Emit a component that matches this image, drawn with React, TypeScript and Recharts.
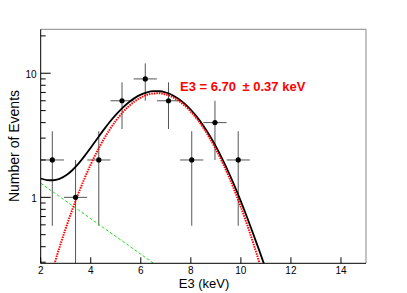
import { ComposedChart, Line, Scatter, XAxis, YAxis, ReferenceLine } from 'recharts';

// histogram bins (E3 in keV) and counts, Poisson errors
const binCenters = [2.464, 3.393, 4.321, 5.25, 6.179, 7.107, 8.036, 8.964, 9.893];
const counts = [2, 1, 2, 6, 9, 6, 2, 4, 2];
const countErrors = [1.41, 1, 1.41, 2.45, 3, 2.45, 1.41, 2, 1.41];
const binHalfWidth = 0.464;

// fit curves
const curveE = [2, 2.25, 2.5, 2.75, 3, 3.25, 3.5, 3.75, 4, 4.25, 4.5, 4.75, 5, 5.25, 5.5, 5.75, 6, 6.25, 6.5, 6.75, 7, 7.25, 7.5, 7.75, 8, 8.25, 8.5, 8.75, 9, 9.25, 9.5, 9.75, 10, 10.25, 10.5, 10.75, 11, 11.25];
const totalFit = [1.418, 1.378, 1.373, 1.41, 1.497, 1.645, 1.859, 2.148, 2.513, 2.954, 3.462, 4.024, 4.618, 5.218, 5.791, 6.302, 6.721, 7.016, 7.166, 7.159, 6.994, 6.679, 6.236, 5.691, 5.078, 4.428, 3.777, 3.15, 2.571, 2.053, 1.607, 1.233, 0.929, 0.688, 0.503, 0.365, 0.263, 0.191];
const signalFit = [0.118, 0.181, 0.27, 0.394, 0.562, 0.784, 1.066, 1.417, 1.84, 2.334, 2.891, 3.498, 4.134, 4.772, 5.38, 5.924, 6.373, 6.695, 6.871, 6.887, 6.743, 6.448, 6.023, 5.495, 4.897, 4.262, 3.624, 3.009, 2.441, 1.933, 1.497, 1.131, 0.835, 0.602, 0.424, 0.292, 0.196, 0.129];
const bkgE = [2, 2.5, 3, 3.5, 4, 4.5, 5, 5.5, 6, 6.5, 7];
const bkgFit = [1.3, 1.103, 0.935, 0.793, 0.673, 0.571, 0.484, 0.411, 0.348, 0.295, 0.251];

const xTicks = [2, 4, 6, 8, 10, 12, 14];
const yTicks = [0.3, 0.4, 0.5, 0.6, 0.7, 0.8, 0.9, 1, 2, 3, 4, 5, 6, 7, 8, 9, 10, 20];
const yLabelTicks = [1, 10];

const X_MIN = 2, X_MAX = 15;
const Y_MIN = 0.294, Y_MAX = 22.6;

const font = '"Liberation Sans", Arial, sans-serif';

const points = binCenters.map((x, i) => ({ x, y: counts[i] }));
const totalData = curveE.map((x, i) => ({ x, y: totalFit[i] }));
const signalData = curveE.map((x, i) => ({ x, y: signalFit[i] }));
const bkgData = bkgE.map((x, i) => ({ x, y: bkgFit[i] }));

const XTick = ({ x, y, payload }: any) => (
  <g>
    <line x1={x} x2={x} y1={y} y2={y - 6} stroke="#000" />
    <text x={x} y={y + 10.5} textAnchor="middle" fontSize={10} fontFamily={font} fill="#000">
      {payload.value}
    </text>
  </g>
);

const YTick = ({ x, y, payload }: any) => {
  const major = yLabelTicks.includes(payload.value);
  return (
    <g>
      <line x1={x} x2={x + (major ? 10 : 5)} y1={y} y2={y} stroke="#000" />
      {major && (
        <text x={x - 4} y={y + 5} textAnchor="end" fontSize={10} fontFamily={font} fill="#000">
          {payload.value}
        </text>
      )}
    </g>
  );
};

const Dot = ({ cx, cy }: any) => <circle cx={cx} cy={cy} r={2.6} fill="#000" />;

export default function App() {
  return (
    <div style={{ position: 'absolute', left: 0, top: 0, width: 407, height: 293, background: '#fff' }}>
      <ComposedChart width={407} height={293} margin={{ top: 29.3, right: 41, bottom: 0, left: 0 }}>
        <XAxis
          dataKey="x"
          type="number"
          domain={[X_MIN, X_MAX]}
          ticks={xTicks}
          interval={0}
          allowDataOverflow
          tickSize={0}
          tickMargin={0}
          tickLine={false}
          tick={<XTick />}
          axisLine={{ stroke: '#000' }}
          height={29.7}
        />
        <YAxis
          dataKey="y"
          type="number"
          scale="log"
          domain={[Y_MIN, Y_MAX]}
          ticks={yTicks}
          interval={0}
          allowDataOverflow
          tickSize={0}
          tickMargin={0}
          tickLine={false}
          tick={<YTick />}
          axisLine={{ stroke: '#000' }}
          width={40.7}
        />
        <ReferenceLine y={Y_MAX} stroke="#888" ifOverflow="visible" />
        <ReferenceLine x={X_MAX} stroke="#888" ifOverflow="visible" />
        {binCenters.map((x, i) => (
          <ReferenceLine
            key={`h${i}`}
            segment={[{ x: x - binHalfWidth, y: counts[i] }, { x: x + binHalfWidth, y: counts[i] }]}
            stroke="#555"
            ifOverflow="hidden"
          />
        ))}
        {binCenters.map((x, i) => (
          <ReferenceLine
            key={`v${i}`}
            segment={[{ x, y: Math.max(counts[i] - countErrors[i], 0.01) }, { x, y: counts[i] + countErrors[i] }]}
            stroke="#555"
            ifOverflow="hidden"
          />
        ))}
        <Line data={bkgData} dataKey="y" type="monotone" stroke="#22dd22" strokeWidth={1} strokeDasharray="3 2" dot={false} isAnimationActive={false} />
        <Line data={totalData} dataKey="y" type="monotone" stroke="#000" strokeWidth={1.8} dot={false} isAnimationActive={false} />
        <Line data={signalData} dataKey="y" type="monotone" stroke="#ff0000" strokeWidth={2} strokeDasharray="1.5 1" dot={false} isAnimationActive={false} />
        <Scatter data={points} dataKey="y" shape={<Dot />} isAnimationActive={false} />
      </ComposedChart>
      <div style={{ position: 'absolute', left: 180, top: 80, lineHeight: 1, fontFamily: font, fontWeight: 'bold', fontSize: 13, color: '#ff0000', whiteSpace: 'nowrap' }}>
        E3 = 6.70{'\u2002'}± 0.37 keV
      </div>
      <div style={{ position: 'absolute', left: 204, top: 276.5, lineHeight: 1, transform: 'translateX(-50%)', fontFamily: font, fontSize: 13, whiteSpace: 'nowrap' }}>
        E3 (keV)
      </div>
      <div style={{ position: 'absolute', left: 14, top: 146, lineHeight: 1, transform: 'translate(-50%, -50%) rotate(-90deg)', fontFamily: font, fontSize: 14, whiteSpace: 'nowrap' }}>
        Number of Events
      </div>
    </div>
  );
}
